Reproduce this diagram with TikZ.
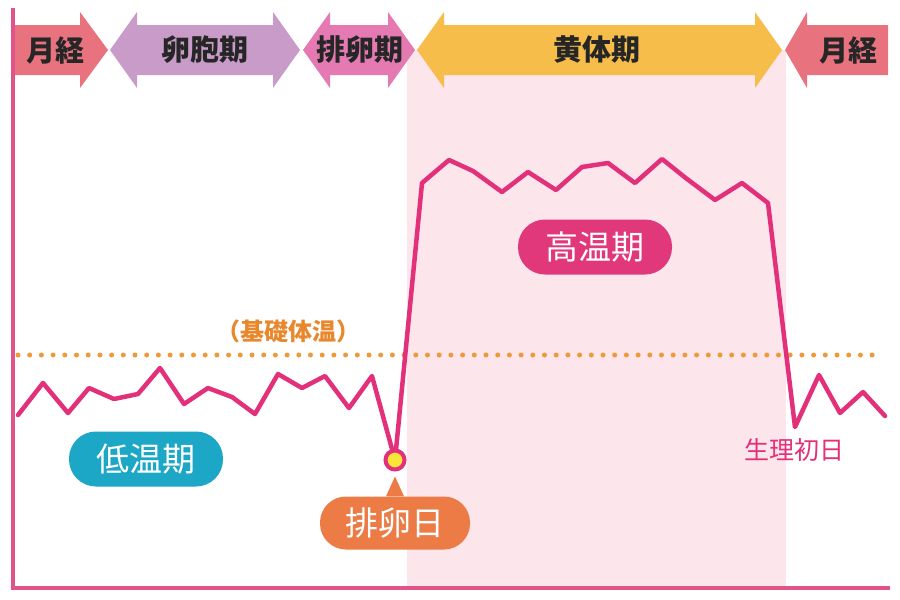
\documentclass[tikz,border=0pt]{standalone}
\usepackage{fontspec}
\usepackage{tikz}
\newfontfamily\jp{Noto Sans CJK JP}
\usetikzlibrary{calc}

\definecolor{salmon}{HTML}{E8737F}
\definecolor{lavender}{HTML}{C99BC9}
\definecolor{rosearrow}{HTML}{E57AB3}
\definecolor{goldarrow}{HTML}{F6BD4B}
\definecolor{curvepink}{HTML}{E3307A}
\definecolor{axispink}{HTML}{E1548A}
\definecolor{dotorange}{HTML}{EE9A3A}
\definecolor{textorange}{HTML}{E8872C}
\definecolor{pillcyan}{HTML}{1CA7C6}
\definecolor{pillorange}{HTML}{EC7B45}
\definecolor{pillmagenta}{HTML}{E1387B}
\definecolor{lutealshade}{HTML}{FCE5EB}
\definecolor{dotyellow}{HTML}{F9E637}

% double headed arrow: left tip, right tip, colour
\newcommand{\phasearrow}[3]{%
  \fill[#3] (#1,50) -- (#1+27,12) -- (#1+27,25) -- (#2-27,25) -- (#2-27,12) -- (#2,50)
            -- (#2-27,88) -- (#2-27,75) -- (#1+27,75) -- (#1+27,88) -- cycle;}

\begin{document}
\begin{tikzpicture}[x=1pt,y=-1pt,
    phase/.style={font=\jp\bfseries\fontsize{29}{32}\selectfont, text=black!85},
    pill/.style={font=\jp\fontsize{33}{36}\selectfont, text=white, minimum width=154pt,
                 minimum height=55pt, rounded corners=27pt, inner sep=0pt},
    temp/.style={curvepink, line width=4.5pt, line join=round, line cap=round}]
	\useasboundingbox (0,0) rectangle (900,600);
	\fill[white] (0,0) rectangle (900,600);
	\fill[lutealshade] (407,50) rectangle (786,586);

	% phase arrows
	\fill[salmon] (15,25) -- (80,25) -- (80,12) -- (108,50) -- (80,88) -- (80,75) -- (15,75) -- cycle;
	\phasearrow{110}{300}{lavender}
	\phasearrow{303}{415}{rosearrow}
	\phasearrow{417}{782}{goldarrow}
	\fill[salmon] (888,25) -- (807,25) -- (807,12) -- (785,50) -- (807,88) -- (807,75) -- (888,75) -- cycle;
	\foreach \px/\txt/\nm in {55/月経/mensA, 205/卵胞期/follicular, 360/排卵期/ovulatory, 597/黄体期/luteal, 848/月経/mensB}
	    \node[phase] (\nm) at (\px,50) {\txt};

	% axes
	\draw[axispink, line width=4pt] (13,8) -- (13,588) -- (890,588);

	% basal temperature line
	\draw[dotorange, line width=5pt, line cap=round, dash pattern=on 0pt off 11.7pt] (18,355) -- (882,355);
	\node[text=textorange, font=\jp\bfseries\fontsize{24}{27}\selectfont] (bbt) at (288,331) {（基礎体温）};

	% temperature curve
	\draw[temp] plot coordinates {(18,415) (43,383) (68,413) (89,388) (114,399) (138,394) (160,368)
	    (184,404) (208,388) (232,397) (255,414) (278,374) (302,388) (325,376) (349,408) (372,376)
	    (395,460) (422,183) (449,160) (473,171) (502,192) (528,172) (556,190) (582,167) (608,163)
	    (635,183) (662,159) (687,179) (715,200) (742,183) (768,203) (795,427) (819,375) (840,413)
	    (863,392) (885,416)};
	\node[circle, draw=curvepink, fill=dotyellow, line width=4pt, minimum size=19pt, inner sep=0pt] (ovdot) at (395,460) {};

	% labels
	\node[pill, fill=pillcyan] (low) at (146,459) {低温期};
	\node[pill, fill=pillmagenta] (high) at (595,247) {高温期};
	\node[pill, fill=pillorange, minimum width=150pt, minimum height=53pt, rounded corners=26pt] (ovday) at (395,523) {排卵日};
	\fill[pillorange] ([xshift=-9pt]ovday.north) -- ($(ovdot.south)+(0,5)$) -- ([xshift=9pt]ovday.north) -- cycle;
	\node[text=curvepink, font=\jp\fontsize{25}{28}\selectfont] (firstday) at (794,450) {生理初日};
\end{tikzpicture}
\end{document}
